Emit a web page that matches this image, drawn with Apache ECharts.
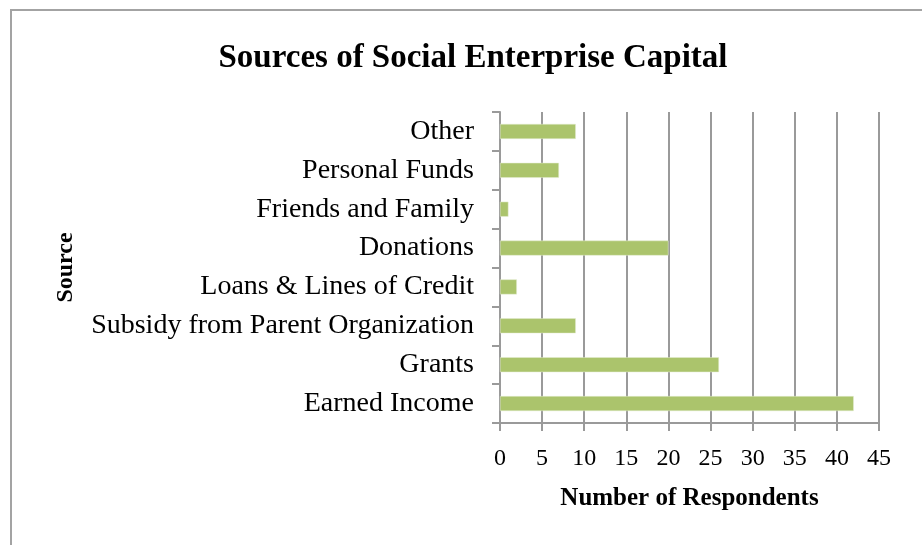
<!DOCTYPE html>
<html>
<head>
<meta charset="utf-8">
<script src="https://cdn.jsdelivr.net/npm/echarts@6/dist/echarts.min.js"></script>
<style>
  html, body { margin: 0; padding: 0; background: #fff; }
  #chart { width: 922px; height: 545px; }
</style>
</head>
<body>
<div id="chart"></div>
<script>
// Funding sources, listed bottom to top as they appear on the axis
const categories = [
  'Earned Income',
  'Grants',
  'Subsidy from Parent Organization',
  'Loans & Lines of Credit',
  'Donations',
  'Friends and Family',
  'Personal Funds',
  'Other'
];
const respondents = [42, 26, 9, 2, 20, 1, 7, 9];
const xTicks = [0, 5, 10, 15, 20, 25, 30, 35, 40, 45];

const serif = '"Liberation Serif", "DejaVu Serif", serif';
const gridGray = '#9a9a9a';

const chart = echarts.init(document.getElementById('chart'), null, { renderer: 'canvas' });
chart.setOption({
  backgroundColor: '#ffffff',
  animation: false,
  title: {
    text: 'Sources of Social Enterprise Capital',
    left: 468,
    top: 37,
    textAlign: 'center',
    textStyle: { fontFamily: serif, fontWeight: 'bold', fontSize: 33, color: '#000' }
  },
  graphic: [{
    type: 'rect',
    shape: { x: 11, y: 10, width: 1000, height: 600 },
    style: { fill: 'none', stroke: '#a3a3a3', lineWidth: 2 },
    silent: true
  }],
  grid: { left: 500, right: 43, top: 112, bottom: 122, containLabel: false },
  xAxis: {
    type: 'value',
    min: xTicks[0],
    max: xTicks[xTicks.length - 1],
    interval: 5,
    name: 'Number of Respondents',
    nameLocation: 'middle',
    nameGap: 63,
    nameTextStyle: { fontFamily: serif, fontWeight: 'bold', fontSize: 25, color: '#000' },
    axisLine: { show: true, lineStyle: { color: gridGray, width: 2 } },
    axisTick: { show: true, length: 8, lineStyle: { color: gridGray, width: 2 } },
    axisLabel: { fontFamily: serif, fontSize: 24, color: '#000', margin: 24 },
    splitLine: { show: true, lineStyle: { color: gridGray, width: 2 } }
  },
  yAxis: {
    type: 'category',
    data: categories,
    name: 'Source',
    nameLocation: 'middle',
    nameRotate: 90,
    nameGap: 422,
    nameTextStyle: { fontFamily: serif, fontWeight: 'bold', fontSize: 24, color: '#000' },
    axisLine: { show: true, lineStyle: { color: gridGray, width: 2 } },
    axisTick: { show: true, length: 8, lineStyle: { color: gridGray, width: 2 } },
    axisLabel: { fontFamily: serif, fontSize: 28, color: '#000', margin: 26 },
    splitLine: { show: false }
  },
  series: [{
    type: 'bar',
    data: respondents,
    barWidth: 15,
    itemStyle: { color: '#abc46c', borderColor: '#e4edd2', borderWidth: 0.5 }
  }]
});
</script>
</body>
</html>
